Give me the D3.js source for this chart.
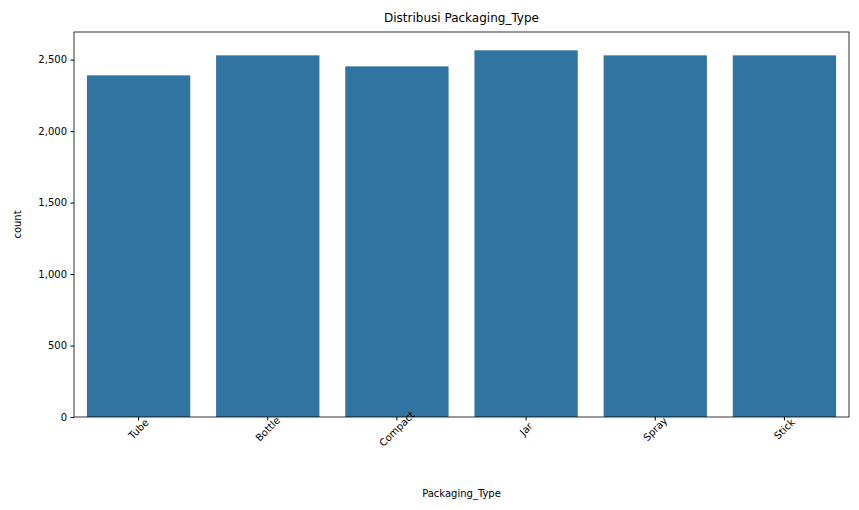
<!DOCTYPE html>
<html><head><meta charset="utf-8">
<script src="https://cdn.jsdelivr.net/npm/d3@7"></script>
<style>body{margin:0;background:#fff}text{font-family:"DejaVu Sans",sans-serif}</style>
</head><body><svg id="chart" width="859" height="510"></svg>
<script>
const categories = ["Tube", "Bottle", "Compact", "Jar", "Spray", "Stick"];
const counts = [2390, 2530, 2453, 2565, 2530, 2530];
const yTicks = [0, 500, 1000, 1500, 2000, 2500];

const svg = d3.select("#chart");
const m = { left: 74, right: 10, top: 32, bottom: 93 };
const W = 859, H = 510;
const x = d3.scaleBand().domain(categories).range([m.left, W - m.right]).paddingInner(0.2).paddingOuter(0.1);
const y = d3.scaleLinear().domain([0, d3.max(counts) * 1.05]).range([H - m.bottom, m.top]);

svg.selectAll("rect.bar").data(categories).enter().append("rect")
  .attr("class", "bar")
  .attr("x", d => x(d)).attr("width", x.bandwidth())
  .attr("y", (d, i) => y(counts[i])).attr("height", (d, i) => y(0) - y(counts[i]))
  .attr("fill", "#3274a1");

const ya = svg.append("g").attr("transform", `translate(${m.left},0)`)
  .call(d3.axisLeft(y).tickValues(yTicks).tickSize(3.5).tickPadding(3.5));
const xa = svg.append("g").attr("transform", `translate(0,${H - m.bottom})`)
  .call(d3.axisBottom(x).tickSize(3.5).tickPadding(3.5));
[ya, xa].forEach(a => {
  a.select(".domain").remove();
  a.selectAll("text").attr("font-size", 10).attr("fill", "#000");
  a.selectAll("line").attr("stroke", "#000");
});
xa.selectAll("text").attr("text-anchor", "middle")
  .attr("transform", "translate(0,12) rotate(-45)").attr("dy", "0.35em").attr("y", 0);

svg.append("rect").attr("x", m.left).attr("y", m.top)
  .attr("width", W - m.right - m.left).attr("height", H - m.bottom - m.top)
  .attr("fill", "none").attr("stroke", "#000").attr("stroke-width", 0.8);

svg.append("text").attr("x", (m.left + W - m.right) / 2).attr("y", 22)
  .attr("text-anchor", "middle").attr("font-size", 12).text("Distribusi Packaging_Type");
svg.append("text").attr("x", (m.left + W - m.right) / 2).attr("y", 497)
  .attr("text-anchor", "middle").attr("font-size", 10).text("Packaging_Type");
svg.append("text").attr("transform", `translate(21,${(m.top + H - m.bottom) / 2}) rotate(-90)`)
  .attr("text-anchor", "middle").attr("font-size", 10).text("count");
</script></body></html>
